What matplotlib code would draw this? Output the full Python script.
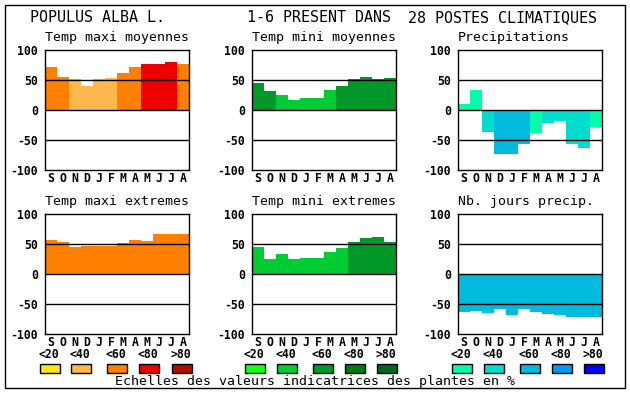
import matplotlib
matplotlib.use("Agg")
import matplotlib.pyplot as plt
from matplotlib.patches import Rectangle

W, H = 630, 394

months = ["S", "O", "N", "D", "J", "F", "M", "A", "M", "J", "J", "A"]
yticks = [-100, -50, 0, 50, 100]

# Colour scales (classes <20, <40, <60, <80, >80)
scale_labels = ["<20", "<40", "<60", "<80", ">80"]
warm = ["#FFE31A", "#FFB84D", "#FF8000", "#EE0000", "#AA1100"]
green = ["#14FF14", "#00CC33", "#009929", "#007A10", "#006622"]
blue = ["#00FFAA", "#00DDCC", "#00BBDD", "#0099EE", "#0000FF"]

# Panel data: values and colour class per month
tmax_moy = [72, 55, 52, 40, 52, 53, 62, 72, 77, 77, 80, 77]
tmax_moy_cls = [2, 2, 1, 1, 1, 1, 2, 2, 3, 3, 3, 2]

tmin_moy = [45, 32, 25, 17, 20, 20, 33, 40, 52, 55, 52, 53]
tmin_moy_cls = [2, 2, 1, 1, 1, 1, 1, 2, 2, 2, 2, 2]

precip = [10, 33, -37, -73, -73, -57, -38, -22, -18, -57, -63, -28]
precip_cls = [0, 0, 1, 2, 2, 2, 0, 1, 1, 1, 1, 0]

tmax_ext = [57, 53, 45, 47, 47, 47, 52, 57, 55, 67, 67, 67]
tmax_ext_cls = [2] * 12

tmin_ext = [45, 25, 33, 25, 27, 27, 37, 43, 53, 60, 62, 53]
tmin_ext_cls = [1, 1, 1, 1, 1, 1, 1, 1, 2, 2, 2, 2]

nbjours = [-63, -62, -65, -58, -68, -58, -63, -67, -68, -72, -72, -72]
nbjours_cls = [2] * 12

panels = [
    ("Temp maxi moyennes", tmax_moy, tmax_moy_cls, warm, 45, 50),
    ("Temp mini moyennes", tmin_moy, tmin_moy_cls, green, 252, 50),
    ("Precipitations", precip, precip_cls, blue, 458, 50),
    ("Temp maxi extremes", tmax_ext, tmax_ext_cls, warm, 45, 214),
    ("Temp mini extremes", tmin_ext, tmin_ext_cls, green, 252, 214),
    ("Nb. jours precip.", nbjours, nbjours_cls, blue, 458, 214),
]

MONO = "DejaVu Sans Mono"
fig = plt.figure(figsize=(W / 100, H / 100), dpi=100)

def fx(x):
    return x / W

def fy(y):
    return 1 - y / H

aw, ah = 144, 120
for title, vals, cls, pal, x0, y0 in panels:
    ax = fig.add_axes([fx(x0), fy(y0 + ah), aw / W, ah / H])
    ax.bar(range(12), vals, width=1.0, color=[pal[c] for c in cls],
           linewidth=0, zorder=1)
    for yv in (-50, 0, 50):
        ax.axhline(yv, color="black", lw=1.0, zorder=3)
    ax.set_xlim(-0.5, 11.5)
    ax.set_ylim(-100, 100)
    ax.set_yticks(yticks)
    ax.set_yticklabels([str(v) for v in yticks], fontfamily=MONO,
                       fontweight="bold", fontsize=8.3)
    ax.set_xticks(range(12))
    ax.set_xticklabels(months, fontfamily=MONO, fontweight="bold", fontsize=8.3)
    ax.tick_params(axis="y", length=0, pad=5)
    ax.tick_params(axis="x", length=0, pad=1.5)
    for s in ax.spines.values():
        s.set_linewidth(1.0)
        s.set_zorder(4)
    fig.text(fx(x0), fy(y0 - 12), title, fontfamily=MONO, fontsize=9.5,
             ha="left", va="center")

# Main title
fig.text(fx(30), fy(18), "POPULUS ALBA L.", fontfamily=MONO, fontsize=10.8,
         ha="left", va="center")
fig.text(fx(247), fy(18), "1-6 PRESENT DANS", fontfamily=MONO, fontsize=10.8,
         ha="left", va="center")
fig.text(fx(408), fy(18), "28 POSTES CLIMATIQUES", fontfamily=MONO, fontsize=10.8,
         ha="left", va="center")

# Legend scales
box_x = [
    [40, 71, 107, 139, 172],
    [245, 277, 313, 345, 377],
    [452, 484, 520, 552, 584],
]
for pal, xs in zip([warm, green, blue], box_x):
    for col, lab, x in zip(pal, scale_labels, xs):
        fig.add_artist(Rectangle((fx(x), fy(373)), 20 / W, 9 / H,
                                 transform=fig.transFigure, facecolor=col,
                                 edgecolor="black", lw=1.0))
        fig.text(fx(x + 9), fy(355), lab, fontfamily=MONO, fontweight="bold",
                 fontsize=8.3, ha="center", va="center")

fig.text(fx(315), fy(382), "Echelles des valeurs indicatrices des plantes en %",
         fontfamily=MONO, fontsize=9.5, ha="center", va="center")

# Outer frame
fig.add_artist(Rectangle((fx(5), fy(388)), 620 / W, 383 / H,
                         transform=fig.transFigure, fill=False,
                         edgecolor="black", lw=1.0))

fig.savefig("out.png", dpi=100)
